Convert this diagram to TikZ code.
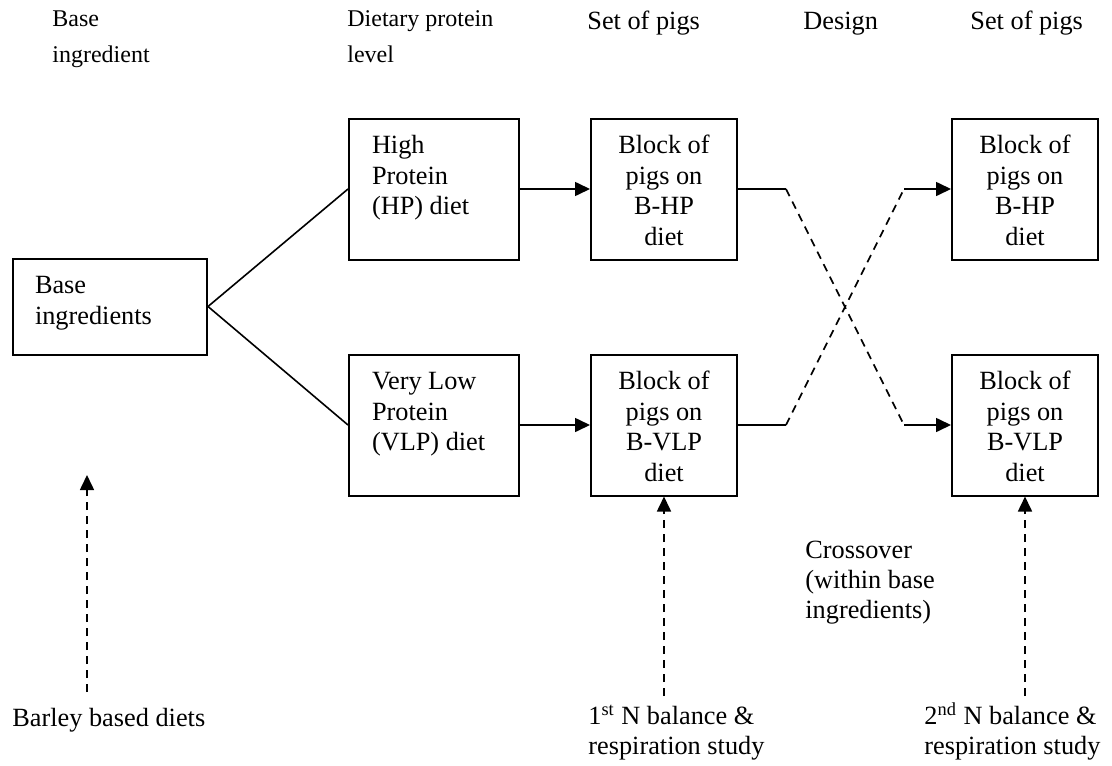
\documentclass[tikz,border=0pt]{standalone}
\usepackage{fontspec}
\setmainfont{Liberation Serif}
\usetikzlibrary{arrows.meta}
\begin{document}
\begin{tikzpicture}[x=0.5pt,y=-0.5pt,
  every node/.style={font=\fontsize{13.15}{15.35}\selectfont},
  hdr/.style={anchor=base west, inner sep=0pt, align=flush left, text width=120pt, font=\fontsize{12}{18}\selectfont},
  hdrb/.style={anchor=base west, inner sep=0pt, align=flush left, text width=120pt, font=\fontsize{13.15}{18}\selectfont},
  lbl/.style={anchor=base west, inner sep=0pt, align=flush left, text width=120pt, font=\fontsize{13.15}{15}\selectfont},
  box/.style={draw, line width=1pt, inner ysep=0pt, text height=17.5pt},
  lbox/.style={box, align=flush left, inner xsep=11.5pt, text width=62pt, text depth=53pt},
  cbox/.style={box, align=flush center, inner xsep=0pt, text width=73pt, text depth=53pt},
  ln/.style={line width=0.8pt},
  dsh/.style={dash pattern=on 4pt off 3pt},
  arr/.style={ln, -{Triangle[length=7.5pt,width=7pt]}},
]
\useasboundingbox (0,0) rectangle (1112,765);

% headers
\node[hdr] (h1) at (52,27) {Base\\ingredient};
\node[hdr] (h2) at (347,27) {Dietary protein\\level};
\node[hdrb] (h3) at (587,30) {Set of pigs};
\node[hdrb] (h4) at (803,30) {Design};
\node[hdrb] (h5) at (970,30) {Set of pigs};

% boxes
\node[box, align=flush left, inner xsep=11pt, text width=75pt, text depth=30.5pt] (base) at (110,306.5) {Base\\ingredients};
\node[lbox] (hp) at (434,189) {High\\Protein\\(HP) diet};
\node[lbox] (vlp) at (434,425) {Very Low\\Protein\\(VLP) diet};
\node[cbox] (bhp1) at (664,189) {Block of\\pigs on\\B-HP\\diet};
\node[cbox] (bvlp1) at (664,425) {Block of\\pigs on\\B-VLP\\diet};
\node[cbox] (bhp2) at (1025,189) {Block of\\pigs on\\B-HP\\diet};
\node[cbox] (bvlp2) at (1025,425) {Block of\\pigs on\\B-VLP\\diet};

% connectors
\draw[ln] (base.east) -- (hp.west);
\draw[ln] (base.east) -- (vlp.west);
\draw[arr] (hp.east) -- (bhp1.west);
\draw[arr] (vlp.east) -- (bvlp1.west);

\coordinate (c1) at (786,189);
\coordinate (c2) at (904,425);
\coordinate (c3) at (786,425);
\coordinate (c4) at (904,189);
\draw[ln] (bhp1.east) -- (c1);
\draw[ln,dsh] (c1) -- (c2);
\draw[arr] (c2) -- (bvlp2.west);
\draw[ln] (bvlp1.east) -- (c3);
\draw[ln,dsh] (c3) -- (c4);
\draw[arr] (c4) -- (bhp2.west);

% crossover label
\node[lbl] (cross) at (805,558) {Crossover\\(within base\\ingredients)};

% bottom labels
\node[lbl] (barley) at (12,726) {Barley based diets};
\node[lbl] (s1) at (588,724) {1\textsuperscript{st} N balance \&\\respiration study};
\node[lbl] (s2) at (924,724) {2\textsuperscript{nd} N balance \&\\respiration study};

\coordinate (b0) at (87,692);
\coordinate (b1) at (87,475);
\coordinate (s1t) at (664,696);
\coordinate (s2t) at (1025,696);
\draw[arr,dsh] (b0) -- (b1);
\draw[arr,dsh] (s1t) -- (bvlp1.south);
\draw[arr,dsh] (s2t) -- (bvlp2.south);
\end{tikzpicture}
\end{document}
